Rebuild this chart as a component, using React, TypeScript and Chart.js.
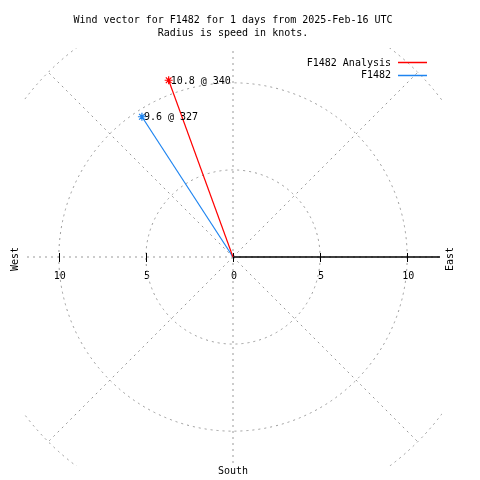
import React, { useEffect, useRef } from "react";
import { Chart, registerables } from "chart.js";

Chart.register(...registerables);

const titleLines = [
  "Wind vector for F1482 for 1 days from 2025-Feb-16 UTC",
  "Radius is speed in knots.",
];
const seriesNames = ["F1482 Analysis", "F1482"];
const speeds = [10.8, 9.6];
const directions = [340, 327];
const pointLabels = ["10.8 @ 340", "9.6 @ 327"];
const seriesColors = ["#ff0000", "#1e84f0"];
const ringValues = [5, 10, 15];
const spokeAngles = [0, 45, 90, 135, 180, 225, 270, 315];
const axisTickValues = [-10, -5, 0, 5, 10];
const axisTickLabels = ["10", "5", "0", "5", "10"];
const compassLabels = ["West", "East", "South"];
const axisLimit = 12;

const FONT = "10px 'DejaVu Sans Mono', monospace";

const windPlugin = {
  id: "windPlugin",
  beforeDatasetsDraw(chart: any) {
    const { ctx, chartArea, scales } = chart;
    const xs = scales.x;
    const ys = scales.y;
    const cx = xs.getPixelForValue(0);
    const cy = ys.getPixelForValue(0);
    const pxPerUnit = xs.getPixelForValue(1) - cx;
    ctx.save();
    // tick labels
    ctx.fillStyle = "#000";
    ctx.font = FONT;
    ctx.textAlign = "center";
    ctx.textBaseline = "middle";
    axisTickValues.forEach((v, i) => {
      ctx.fillText(axisTickLabels[i], xs.getPixelForValue(v) + 1, cy + 19);
    });
    // grid
    ctx.beginPath();
    ctx.rect(chartArea.left, chartArea.top, chartArea.right - chartArea.left, chartArea.bottom - chartArea.top);
    ctx.clip();
    ctx.strokeStyle = "#999999";
    ctx.lineWidth = 1;
    ctx.setLineDash([2, 4]);
    ringValues.forEach((r) => {
      ctx.beginPath();
      ctx.arc(cx, cy, r * pxPerUnit, 0, Math.PI * 2);
      ctx.stroke();
    });
    const maxR = ringValues[ringValues.length - 1];
    spokeAngles.forEach((a) => {
      const rad = (a * Math.PI) / 180;
      ctx.beginPath();
      ctx.moveTo(cx, cy);
      ctx.lineTo(xs.getPixelForValue(maxR * Math.cos(rad)), ys.getPixelForValue(maxR * Math.sin(rad)));
      ctx.stroke();
    });
    ctx.setLineDash([]);
    // east axis solid
    ctx.strokeStyle = "#000";
    ctx.lineWidth = 1.5;
    ctx.beginPath();
    ctx.moveTo(cx, cy);
    ctx.lineTo(xs.getPixelForValue(axisLimit) - 2, cy);
    ctx.stroke();
    ctx.lineWidth = 1;
    axisTickValues.forEach((v) => {
      const x = Math.round(xs.getPixelForValue(v)) + 0.5;
      ctx.beginPath();
      ctx.moveTo(x, cy - 4);
      ctx.lineTo(x, cy + 5);
      ctx.stroke();
    });
    ctx.restore();
    // compass labels
    ctx.save();
    ctx.fillStyle = "#000";
    ctx.font = FONT;
    ctx.textAlign = "center";
    ctx.textBaseline = "middle";
    ctx.save();
    ctx.translate(chartArea.left - 9, cy + 2);
    ctx.rotate(-Math.PI / 2);
    ctx.fillText(compassLabels[0], 0, 0);
    ctx.restore();
    ctx.save();
    ctx.translate(chartArea.right + 8, cy + 2);
    ctx.rotate(-Math.PI / 2);
    ctx.fillText(compassLabels[1], 0, 0);
    ctx.restore();
    ctx.fillText(compassLabels[2], cx, chartArea.bottom + 5);
    ctx.restore();
  },
  afterDatasetsDraw(chart: any) {
    const { ctx } = chart;
    ctx.save();
    ctx.font = FONT;
    ctx.fillStyle = "#000";
    ctx.textBaseline = "middle";
    ctx.textAlign = "left";
    chart.data.datasets.forEach((ds: any, i: number) => {
      const meta = chart.getDatasetMeta(i);
      const pt = meta.data[1];
      if (pt) ctx.fillText(pointLabels[i], pt.x + 2, pt.y + 1);
    });
    // legend
    ctx.textAlign = "right";
    const lx = 391;
    seriesNames.forEach((name, i) => {
      const y = 63 + i * 12.5;
      ctx.fillStyle = "#000";
      ctx.fillText(name, lx, y);
      ctx.strokeStyle = seriesColors[i];
      ctx.lineWidth = 1.5;
      ctx.beginPath();
      ctx.moveTo(398, Math.round(y) - 0.5);
      ctx.lineTo(427, Math.round(y) - 0.5);
      ctx.stroke();
    });
    ctx.restore();
  },
};

export default function App() {
  const ref = useRef<HTMLCanvasElement | null>(null);
  useEffect(() => {
    if (!ref.current) return;
    const datasets = seriesNames.map((name, i) => {
      const rad = (directions[i] * Math.PI) / 180;
      const tip = { x: speeds[i] * Math.sin(rad), y: speeds[i] * Math.cos(rad) };
      return {
        label: name,
        data: [{ x: 0, y: 0 }, tip],
        showLine: true,
        borderColor: seriesColors[i],
        backgroundColor: seriesColors[i],
        borderWidth: 1.2,
        pointStyle: "star" as const,
        pointRadius: [0, 4],
        pointBorderWidth: 1.2,
        pointBorderColor: seriesColors[i],
      };
    });
    const chart = new Chart(ref.current, {
      type: "scatter",
      data: { datasets: datasets as any },
      options: {
        animation: false,
        responsive: false,
        devicePixelRatio: 1,
        layout: { padding: { left: 24, right: 38, top: 0, bottom: 14 } },
        scales: {
          x: { type: "linear", min: -axisLimit, max: axisLimit, display: false },
          y: { type: "linear", min: -axisLimit, max: axisLimit, display: false },
        },
        plugins: {
          legend: { display: false },
          tooltip: { enabled: false },
          title: {
            display: true,
            text: titleLines,
            color: "#000",
            font: { family: "'DejaVu Sans Mono', monospace", size: 10, weight: "normal", lineHeight: 1.3 },
            padding: { top: 14, bottom: 8 },
          },
        },
      },
      plugins: [windPlugin],
    });
    return () => chart.destroy();
  }, []);
  return (
    <div style={{ position: "absolute", left: 0, top: 0, width: 480, height: 480, background: "#fff" }}>
      <canvas ref={ref} width={480} height={480} />
    </div>
  );
}
